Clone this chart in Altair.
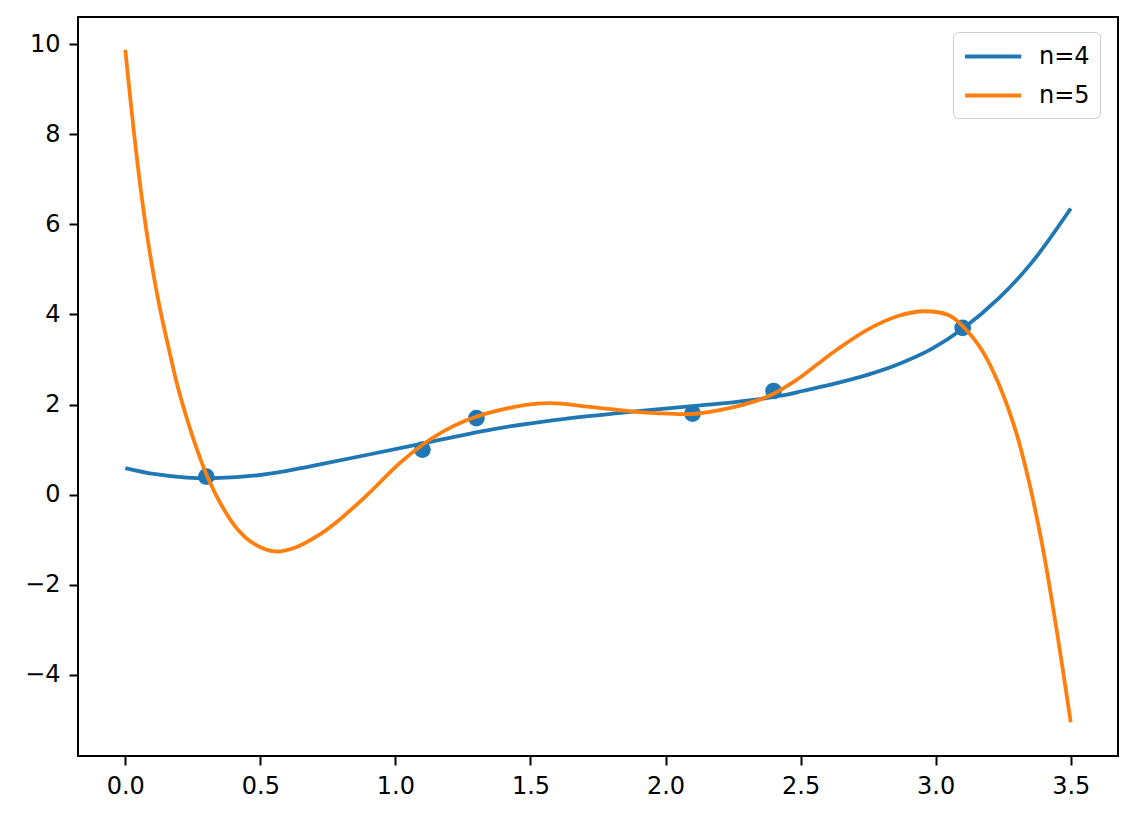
import altair as alt
import pandas as pd

# scatter data
pts_x = [0.3, 1.1, 1.3, 2.1, 2.4, 3.1]
pts_y = [0.4, 1.0, 1.7, 1.8, 2.3, 3.7]

# n=4 curve
n4_x = [0.0, 0.105, 0.228, 0.351, 0.474, 0.598, 0.721, 0.893, 1.103, 1.349, 1.595,
        1.842, 2.088, 2.2, 2.335, 2.4, 2.458, 2.507, 2.63, 2.753, 2.864, 2.987, 3.1,
        3.234, 3.357, 3.5]
n4_y = [0.59, 0.46, 0.38, 0.37, 0.42, 0.53, 0.67, 0.88, 1.14, 1.44, 1.66,
        1.82, 1.96, 2.02, 2.11, 2.17, 2.23, 2.30, 2.47, 2.67, 2.90, 3.24, 3.68,
        4.36, 5.16, 6.35]

# n=5 curve
n5_x = [0.0, 0.031, 0.061, 0.092, 0.129, 0.165, 0.193, 0.228, 0.265, 0.302, 0.351,
        0.413, 0.474, 0.554, 0.635, 0.721, 0.77, 0.893, 1.016, 1.103, 1.176, 1.263,
        1.3, 1.349, 1.472, 1.571, 1.719, 1.842, 1.965, 2.1, 2.236, 2.335, 2.4, 2.458,
        2.507, 2.63, 2.753, 2.864, 2.957, 3.049, 3.1, 3.172, 3.234, 3.296, 3.345,
        3.394, 3.443, 3.48, 3.5]
n5_y = [9.87, 8.10, 6.60, 5.33, 4.11, 3.14, 2.42, 1.69, 1.01, 0.43, -0.18,
        -0.75, -1.08, -1.26, -1.16, -0.88, -0.67, -0.02, 0.70, 1.12, 1.40, 1.65,
        1.73, 1.82, 1.98, 2.03, 1.95, 1.87, 1.81, 1.79, 1.92, 2.08, 2.24, 2.44,
        2.64, 3.20, 3.68, 3.97, 4.07, 3.98, 3.74, 3.20, 2.45, 1.42, 0.30,
        -1.10, -2.82, -4.25, -5.05]

series_names = ["n=4", "n=5"]
series_colors = ["#1f77b4", "#ff7f0e"]

x_ticks = [0.0, 0.5, 1.0, 1.5, 2.0, 2.5, 3.0, 3.5]
y_ticks = [-4, -2, 0, 2, 4, 6, 8, 10]

lines = pd.concat([
    pd.DataFrame({"x": n4_x, "y": n4_y, "s": "n=4"}),
    pd.DataFrame({"x": n5_x, "y": n5_y, "s": "n=5"}),
])
pts = pd.DataFrame({"x": pts_x, "y": pts_y})

FONT = "DejaVu Sans"
xs = alt.Scale(domain=[-0.175, 3.675], nice=False, zero=False)
ys = alt.Scale(domain=[-5.8, 10.6], nice=False, zero=False)

common_axis = dict(grid=False, title=None, ticks=True, tickSize=9, tickWidth=2,
                   tickColor="black", domain=False, labelFont=FONT, labelFontSize=24,
                   labelColor="black")
x_axis = alt.Axis(values=x_ticks, format=".1f", labelPadding=9, **common_axis)
y_axis = alt.Axis(values=y_ticks, format="d", labelPadding=9,
                  labelExpr="replace(datum.label, '-', '\u2212')", **common_axis)

scatter = alt.Chart(pts).mark_circle(size=280, opacity=1, color="#1f77b4").encode(
    x=alt.X("x:Q", scale=xs, axis=x_axis),
    y=alt.Y("y:Q", scale=ys, axis=y_axis),
)

curves = alt.Chart(lines).mark_line(strokeWidth=3.8, interpolate="catmull-rom", clip=True).encode(
    x=alt.X("x:Q", scale=xs, axis=x_axis),
    y=alt.Y("y:Q", scale=ys, axis=y_axis),
    color=alt.Color("s:N", scale=alt.Scale(domain=series_names, range=series_colors),
                    legend=alt.Legend(title=None, orient="none", legendX=875, legendY=15,
                                      symbolType="M-1,0H3.5", symbolSize=625,
                                      symbolStrokeWidth=3.8, symbolFillColor="transparent",
                                      labelFont=FONT, labelFontSize=24, labelColor="black",
                                      fillColor="white", strokeColor="#cccccc", cornerRadius=5,
                                      padding=10, rowPadding=12, labelOffset=47)),
    detail="s:N",
)

chart = alt.layer(scatter, curves).properties(
    width=1040, height=739,
    background="white",
    autosize=alt.AutoSizeParams(type="none"),
    padding={"left": 70, "top": 9, "right": 10, "bottom": 50},
).configure_view(stroke="black", strokeWidth=2)

chart.save("out.html", embed_options={"renderer": "svg", "actions": False})
